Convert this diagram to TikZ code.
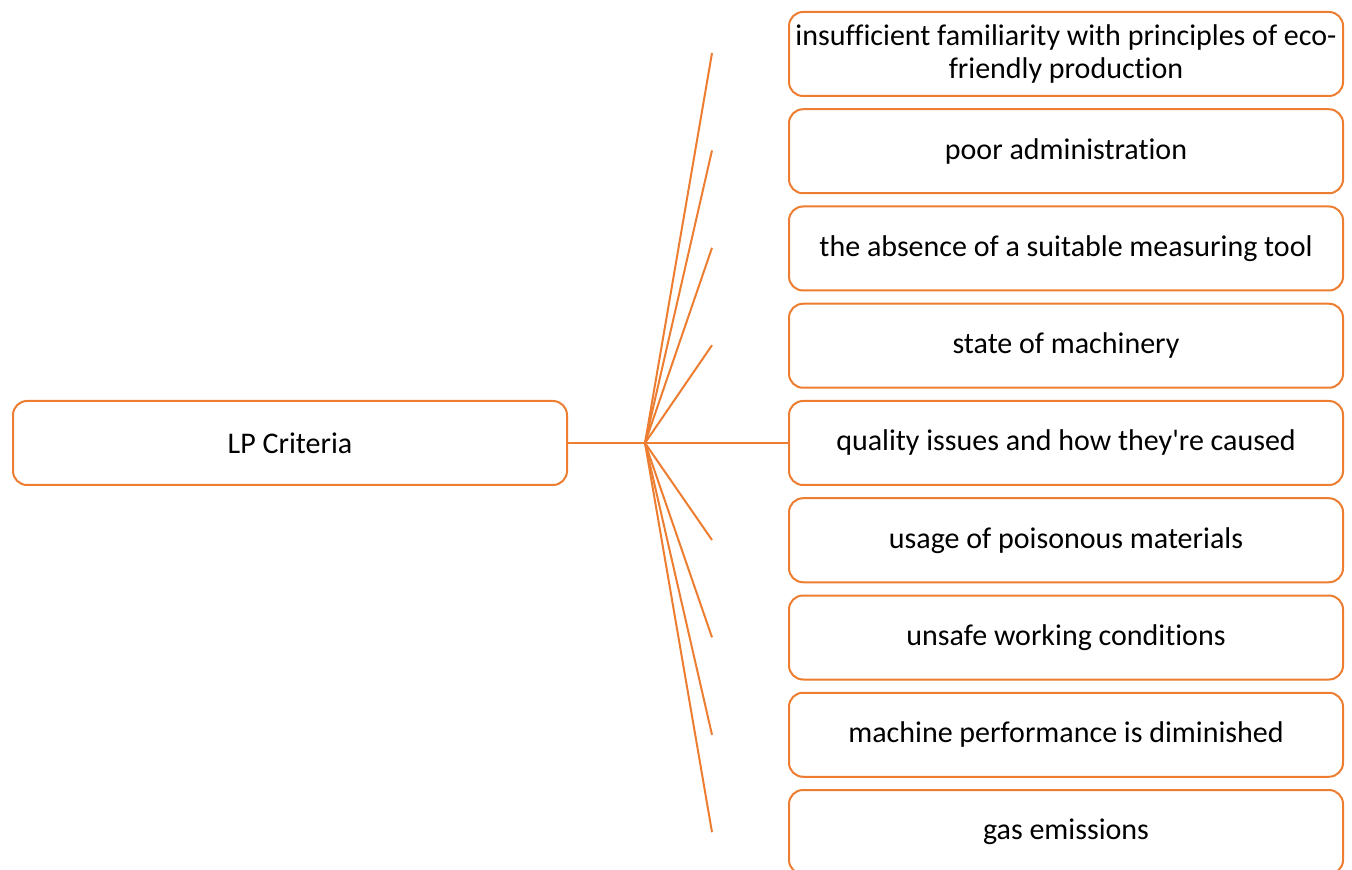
\documentclass[tikz,border=0pt]{standalone}
\usepackage{fontspec}
\setmainfont{Carlito}[Ligatures={TeXOff,CommonOff}]
\usetikzlibrary{positioning}
\definecolor{lporange}{HTML}{ED7D31}

\begin{document}
\begin{tikzpicture}[x=0.5pt, y=-0.5pt,
    box/.style={draw=lporange, line width=1pt, rounded corners=7pt, minimum width=277pt, minimum height=42pt, inner sep=2pt, align=center, font=\fontsize{15}{16.5}\selectfont},
    spoke/.style={draw=lporange, line width=1pt}]
    \useasboundingbox (0,0) rectangle (1352,870);
    \clip (0,0) rectangle (1352,870);

    \node[box] (lp) at (290,443) {LP Criteria};
    \coordinate (hub) at (645,443);

    \foreach \i/\txt in {1/{insufficient familiarity with principles of eco-\\friendly production},
                         2/{poor administration},
                         3/{the absence of a suitable measuring tool},
                         4/{state of machinery},
                         5/{quality issues and how they're caused},
                         6/{usage of poisonous materials},
                         7/{unsafe working conditions},
                         8/{machine performance is diminished},
                         9/{gas emissions}}
    {
        \node[box] (c\i) at (1066,{54+(\i-1)*97.25}) {\txt};
        \coordinate (e\i) at (712,{53+(\i-1)*97.4});
    }

    \draw[spoke] (lp) -- (hub) -- (c5);
    \foreach \i in {1,2,3,4,6,7,8,9}
        \draw[spoke] (hub) -- (e\i);
\end{tikzpicture}
\end{document}
